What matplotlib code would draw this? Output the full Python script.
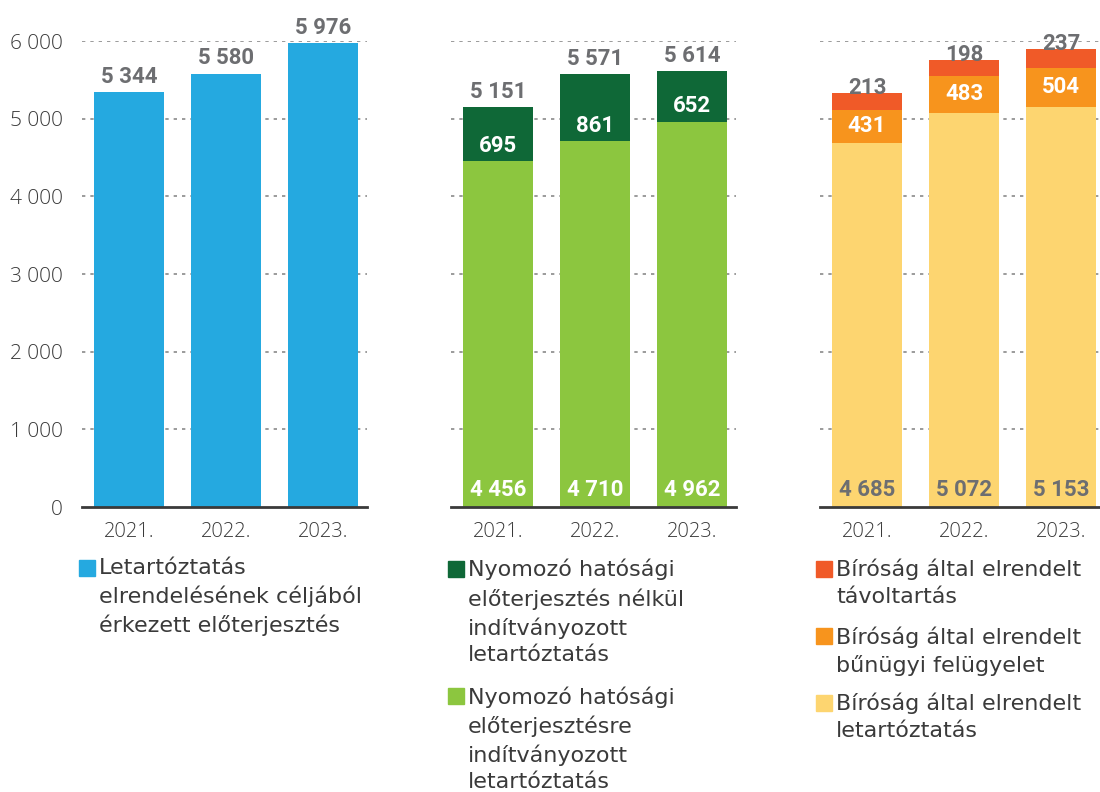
import matplotlib
matplotlib.use('Agg')
import matplotlib.pyplot as plt
import numpy as np

# Adatok
years = ['2021.', '2022.', '2023.']

p1_total = [5344, 5580, 5976]

p2_base = [4456, 4710, 4962]     # előterjesztésre
p2_top = [695, 861, 652]         # előterjesztés nélkül
p2_total = [5151, 5571, 5614]

p3_letart = [4685, 5072, 5153]
p3_felugy = [431, 483, 504]
p3_tavol = [213, 198, 237]

yticks = [0, 1000, 2000, 3000, 4000, 5000, 6000]
ytick_labels = ['0', '1 000', '2 000', '3 000', '4 000', '5 000', '6 000']

legend1 = ['Letartóztatás\nelrendelésének céljából\nérkezett előterjesztés']
legend2 = ['Nyomozó hatósági\nelőterjesztés nélkül\nindítványozott\nletartóztatás',
           'Nyomozó hatósági\nelőterjesztésre\nindítványozott\nletartóztatás']
legend3 = ['Bíróság által elrendelt\ntávoltartás',
           'Bíróság által elrendelt\nbűnügyi felügyelet',
           'Bíróság által elrendelt\nletartóztatás']

# Színek
BLUE = '#25a9e0'
DGREEN = '#0f6837'
LGREEN = '#8cc63f'
RED = '#f05a28'
ORANGE = '#f7941d'
YELLOW = '#fdd570'
GRAY = '#6d6e71'
DARK = '#3a3a3a'

LIGHT_FONT = 'Open Sans'
LEGEND_FONT = 'DejaVu Sans'
BOLD_FONT = 'Roboto'

plt.rcParams['font.family'] = ['Open Sans', 'DejaVu Sans']


def fmt(v):
    return f'{v:,}'.replace(',', ' ')


fig = plt.figure(figsize=(11, 7.92), dpi=100)

BOTTOM = 0.3598
HEIGHT = 0.5884
WIDTH = 0.259
lefts = [0.0745, 0.41, 0.7455]
axes = [fig.add_axes([l, BOTTOM, WIDTH, HEIGHT]) for l in lefts]

x = np.arange(len(years))
BW = 0.72

for i, ax in enumerate(axes):
    ax.set_xlim(-0.485, 2.453)
    ax.set_ylim(0, 6000)
    for s in ['top', 'right', 'left']:
        ax.spines[s].set_visible(False)
    ax.spines['bottom'].set_color(DARK)
    ax.spines['bottom'].set_linewidth(2)
    ax.spines['bottom'].set_zorder(5)
    for yv in yticks[1:]:
        ax.axhline(yv, color='#8a8a8a', linestyle=(0, (2, 3)), linewidth=1.2, zorder=0)
    ax.set_xticks(x)
    ax.set_xticklabels(years, fontsize=14.5, color=DARK, fontfamily=LIGHT_FONT, fontweight='light')
    ax.tick_params(axis='x', length=0, pad=11)
    if i == 0:
        ax.set_yticks(yticks)
        ax.set_yticklabels(ytick_labels, fontsize=15, color=DARK, fontfamily=LIGHT_FONT, fontweight='light')
        ax.tick_params(axis='y', length=0, pad=14)
    else:
        ax.set_yticks([])


def label(ax, xv, yv, text, color, dy, va='bottom'):
    ax.annotate(text, (xv, yv), xytext=(0, dy), textcoords='offset points',
                ha='center', va=va, fontsize=16, fontweight='bold',
                fontfamily=BOLD_FONT, color=color, annotation_clip=False, zorder=6)


# 1. panel
ax = axes[0]
ax.bar(x, p1_total, BW, color=BLUE, zorder=2)
for xi, v in zip(x, p1_total):
    label(ax, xi, v, fmt(v), GRAY, 3)

# 2. panel
ax = axes[1]
ax.bar(x, p2_base, BW, color=LGREEN, zorder=2)
ax.bar(x, p2_top, BW, bottom=p2_base, color=DGREEN, zorder=2)
for xi, b, t, tot in zip(x, p2_base, p2_top, p2_total):
    label(ax, xi, tot, fmt(tot), GRAY, 3)
    label(ax, xi, b, fmt(t), 'white', 3)
    label(ax, xi, 0, fmt(b), 'white', 4)

# 3. panel
ax = axes[2]
b2 = np.array(p3_letart) + np.array(p3_felugy)
ax.bar(x, p3_letart, BW, color=YELLOW, zorder=2)
ax.bar(x, p3_felugy, BW, bottom=p3_letart, color=ORANGE, zorder=2)
ax.bar(x, p3_tavol, BW, bottom=b2, color=RED, zorder=2)
for xi, l, f, t, bb in zip(x, p3_letart, p3_felugy, p3_tavol, b2):
    label(ax, xi, bb + t, fmt(t), GRAY, -4)
    label(ax, xi, l + f / 2, fmt(f), 'white', 0, va='center')
    label(ax, xi, 0, fmt(l), GRAY, 4)


# Jelmagyarázat
def legend_entry(xpix, ypix, color, text):
    fig.patches.append(plt.Rectangle((xpix / 1100, 1 - (ypix + 16) / 792), 16 / 1100, 16 / 792,
                                     transform=fig.transFigure, color=color, figure=fig))
    fig.text((xpix + 20) / 1100, 1 - (ypix - 2) / 792, text, fontsize=16, color=DARK,
             fontfamily=LEGEND_FONT, va='top', ha='left', linespacing=1.43)


legend_entry(79, 560, BLUE, legend1[0])
legend_entry(448, 561, DGREEN, legend2[0])
legend_entry(448, 688, LGREEN, legend2[1])
legend_entry(816, 561, RED, legend3[0])
legend_entry(816, 628, ORANGE, legend3[1])
legend_entry(816, 695, YELLOW, legend3[2])

fig.savefig('out.png', dpi=100)
